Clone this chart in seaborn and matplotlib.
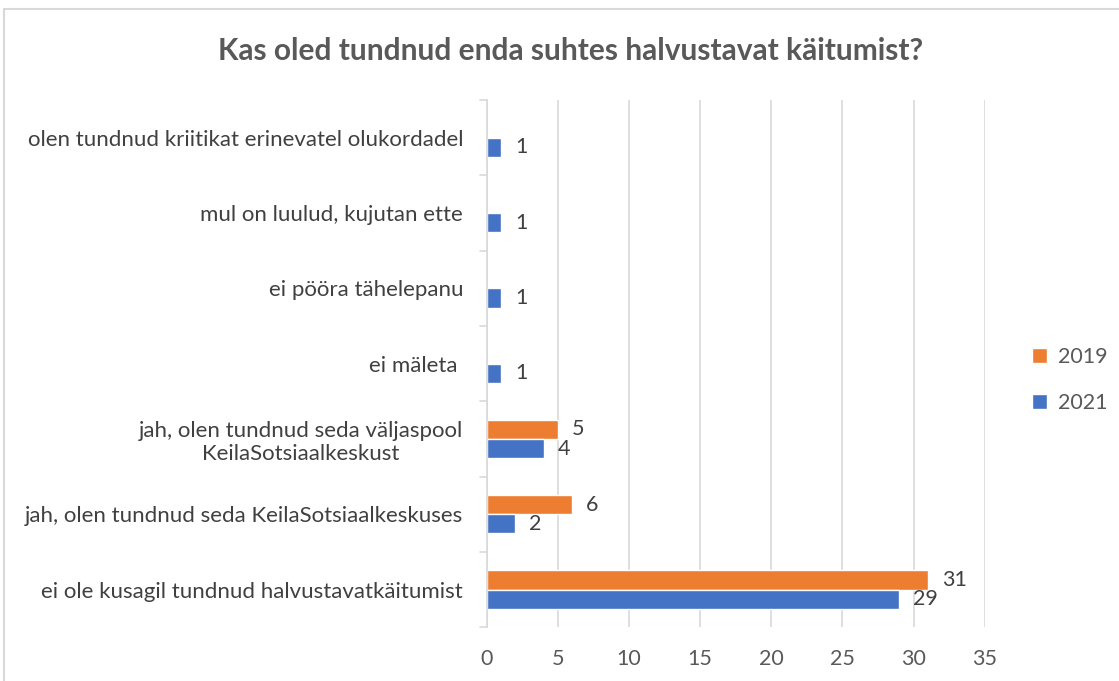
import numpy as np
import pandas as pd
import matplotlib
matplotlib.use("Agg")
import matplotlib.pyplot as plt
import seaborn as sns
from matplotlib.patches import Patch, Rectangle

# andmed
kategooriad = [
    "olen tundnud kriitikat erinevatel olukordadel",
    "mul on luulud, kujutan ette",
    "ei pööra tähelepanu",
    "ei mäleta ",
    "jah, olen tundnud seda väljaspool\nKeilaSotsiaalkeskust",
    "jah, olen tundnud seda KeilaSotsiaalkeskuses",
    "ei ole kusagil tundnud halvustavatkäitumist",
]
aastad = ["2019", "2021"]
vaartused_2019 = [np.nan, np.nan, np.nan, np.nan, 5, 6, 31]
vaartused_2021 = [1, 1, 1, 1, 4, 2, 29]
x_tickid = [0, 5, 10, 15, 20, 25, 30, 35]

varvid = {"2019": "#ED7D31", "2021": "#4472C4"}
hall = "#595959"

df = pd.DataFrame({
    "kategooria": kategooriad * 2,
    "aasta": ["2019"] * len(kategooriad) + ["2021"] * len(kategooriad),
    "vaartus": vaartused_2019 + vaartused_2021,
})

sns.set_style("white")
plt.rcParams["font.family"] = ["Lato", "DejaVu Sans"]

fig = plt.figure(figsize=(11.19, 6.81), dpi=100)
ax = fig.add_axes([0.435, 0.079, 0.445, 0.774])

sns.barplot(data=df, y="kategooria", x="vaartus", hue="aasta", hue_order=aastad,
            order=kategooriad, palette=varvid, orient="h", width=0.51, gap=0,
            ax=ax, legend=False, errorbar=None, saturation=1)

# andmesildid
for cont in ax.containers:
    labels = ["" if np.isnan(v) else f"{int(v)}" for v in cont.datavalues]
    ax.bar_label(cont, labels=labels, padding=10, fontsize=15.5, color="#404040")

ax.set_xlim(0, 35)
ax.set_xticks(x_tickid)
ax.set_ylim(len(kategooriad) - 0.5, -0.5)
ax.xaxis.grid(True, color="#d9d9d9", linewidth=1.2)
ax.set_axisbelow(True)
for s in ["top", "right", "bottom"]:
    ax.spines[s].set_visible(False)
ax.spines["left"].set_color("#d9d9d9")
ax.spines["left"].set_linewidth(1.2)
ax.set_xlabel("")
ax.set_ylabel("")
ax.tick_params(axis="x", length=0, labelsize=15.5, labelcolor=hall, pad=16)
ax.tick_params(axis="y", length=0, labelsize=16, labelcolor="#404040", pad=17)

# kategooriate vahelised kriipsud
for b in np.arange(-0.5, len(kategooriad), 1):
    ax.plot([-0.45, 0], [b, b], color="#d9d9d9", lw=1.2, clip_on=False,
            transform=ax.transData)
for lbl in ax.get_yticklabels():
    lbl.set_multialignment("center")

fig.text(0.51, 0.925, "Kas oled tundnud enda suhtes halvustavat käitumist?",
         ha="center", va="center", fontsize=21.5, fontweight="bold", color=hall)

handles = [Patch(facecolor=varvid[a], label=a) for a in aastad]
fig.legend(handles=handles, loc="center left", bbox_to_anchor=(0.905, 0.442),
           frameon=False, fontsize=15.5, labelcolor=hall, handlelength=0.7,
           handleheight=0.7, labelspacing=1.2, handletextpad=0.5)

fig.patches.append(Rectangle((0.004, -0.01), 1.2, 0.997, transform=fig.transFigure,
                             fill=False, edgecolor="#d9d9d9", linewidth=1.5))

fig.savefig("out.png", dpi=100, facecolor="white")
